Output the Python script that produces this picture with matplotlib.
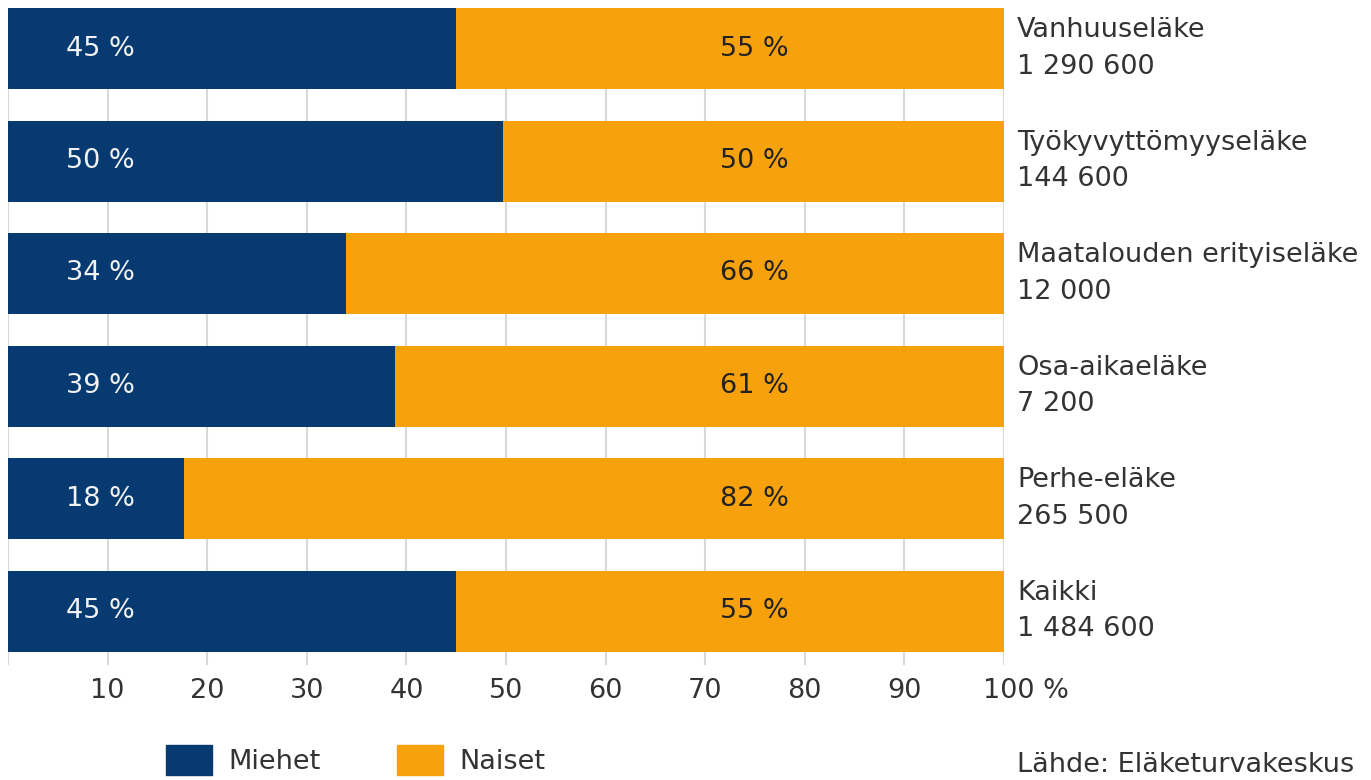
import matplotlib.pyplot as plt
from matplotlib.patches import Patch
from matplotlib.transforms import ScaledTranslation

categories = ["Vanhuuseläke", "Työkyvyttömyyseläke", "Maatalouden erityiseläke",
              "Osa-aikaeläke", "Perhe-eläke", "Kaikki"]
counts = ["1 290 600", "144 600", "12 000", "7 200", "265 500", "1 484 600"]
miehet = [45.0, 49.7, 33.9, 38.9, 17.7, 45.0]
naiset = [55.0, 50.3, 66.1, 61.1, 82.3, 55.0]
ticks = [10, 20, 30, 40, 50, 60, 70, 80, 90, 100]
tick_labels = ["10", "20", "30", "40", "50", "60", "70", "80", "90", "100 %"]

navy = "#063a70"
orange = "#f7a10c"
fs = 19.5

plt.rcParams["font.family"] = ["DejaVu Sans"]
fig = plt.figure(figsize=(13.71, 7.80), dpi=100)
ax = fig.add_axes([8 / 1371, 1 - 665 / 780, 996 / 1371, 657 / 780])

y = list(range(len(categories)))
ax.barh(y, miehet, height=0.72, color=navy, zorder=2)
ax.barh(y, naiset, left=miehet, height=0.72, color=orange, zorder=2)

for i in y:
    ax.text(9.3, i, f"{round(miehet[i])} %", ha="center", va="center",
            fontsize=fs, color="#f2f2f2", zorder=3)
    ax.text(74.9, i, f"{round(naiset[i])} %", ha="center", va="center",
            fontsize=fs, color="#222222", zorder=3)
    ax.annotate(categories[i], (100, i), xytext=(9.5, 13), textcoords="offset points",
                ha="left", va="center", fontsize=fs, color="#333333",
                annotation_clip=False)
    ax.annotate(counts[i], (100, i), xytext=(9.5, -13), textcoords="offset points",
                ha="left", va="center", fontsize=fs, color="#333333",
                annotation_clip=False)

ax.set_xlim(0, 100)
ax.set_ylim(5.48, -0.36)
for x in [0] + ticks:
    ax.axvline(x, color="#d9d9d9", lw=1.5, zorder=1)

for s in ax.spines.values():
    s.set_visible(False)
ax.set_yticks([])
ax.set_xticks(ticks)
ax.set_xticklabels(tick_labels, fontsize=fs, color="#333333")
ax.tick_params(axis="x", length=0, pad=9)
last = ax.get_xticklabels()[-1]
last.set_ha("left")
last.set_transform(last.get_transform() + ScaledTranslation(-0.21, 0, fig.dpi_scale_trans))

# legend and source at the bottom
handles = [Patch(color=navy), Patch(color=orange)]
fig.legend(handles, ["Miehet", "Naiset"], loc="upper left",
           bbox_to_anchor=(142 / 1371, 1 - 721 / 780), ncol=2, frameon=False,
           fontsize=fs, handlelength=1.7, handleheight=1.3, handletextpad=0.6,
           columnspacing=2.8, labelcolor="#333333")

fig.text(1017 / 1371, 1 - 772 / 780, "Lähde: Eläketurvakeskus", ha="left", va="baseline",
         fontsize=fs, color="#333333")

fig.savefig("out.png", dpi=100)
